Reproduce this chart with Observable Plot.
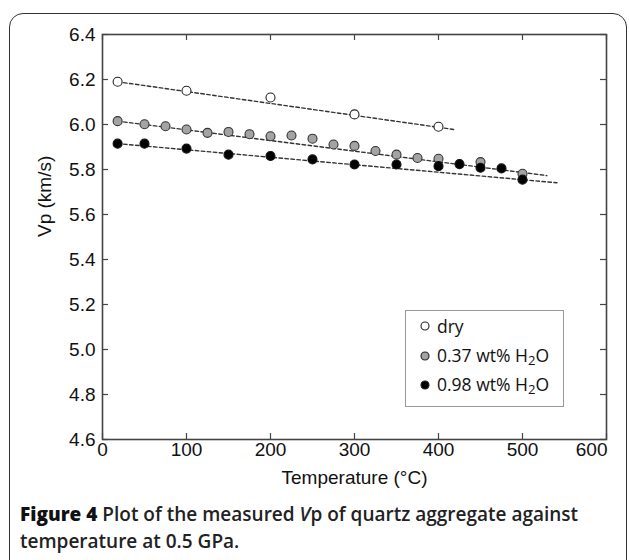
<!DOCTYPE html>
<html>
<head>
<meta charset="utf-8">
<script src="https://cdn.jsdelivr.net/npm/d3@7"></script>
<script src="https://cdn.jsdelivr.net/npm/@observablehq/plot@0.6"></script>
<style>
  html, body { margin: 0; padding: 0; background: #fff; width: 629px; height: 560px; overflow: hidden; }
  #outer { position: absolute; left: 9px; top: 13px; width: 618px; height: 600px; border: 1.5px solid #333; border-radius: 14px; box-sizing: border-box; }
  #chart { position: absolute; left: 0; top: 0; }
  #legend { position: absolute; left: 405px; top: 310px; width: 159px; height: 97px; border: 1px solid #999; background: #fff; box-sizing: border-box; font-family: "Open Sans", sans-serif; font-size: 17.5px; color: #111; }
  .row { position: absolute; left: 0; height: 22px; display: flex; align-items: center; }
  .row svg { margin-left: 14px; margin-right: 7px; }
  #caption { position: absolute; left: 20px; top: 501px; font-family: "Open Sans", sans-serif; font-size: 19px; line-height: 27px; font-weight: 600; color: #222; white-space: nowrap; }
  #caption b { font-weight: 800; color: #111; }
</style>
</head>
<body>
<div id="outer"></div>
<div id="chart"></div>
<div id="legend"></div>
<div id="caption"><b>Figure 4</b> Plot of the measured <i>V</i>p of quartz aggregate against<br>temperature at 0.5 GPa.</div>
<script>
// ---- data ----
const dryT = [18, 100, 200, 300, 400];
const dryV = [6.19, 6.15, 6.12, 6.045, 5.99];

const grayT = [18, 50, 75, 100, 125, 150, 175, 200, 225, 250, 275, 300, 325, 350, 375, 400, 450, 500];
const grayV = [6.015, 6.001, 5.992, 5.978, 5.963, 5.967, 5.957, 5.948, 5.951, 5.937, 5.911, 5.905, 5.882, 5.866, 5.851, 5.848, 5.833, 5.781];

const blackT = [18, 50, 100, 150, 200, 250, 300, 350, 400, 425, 450, 475, 500];
const blackV = [5.915, 5.915, 5.893, 5.866, 5.86, 5.845, 5.822, 5.822, 5.815, 5.824, 5.808, 5.805, 5.755];

// fitted trend lines (start / end)
const dryFitT = [18, 418];   const dryFitV = [6.19, 5.978];
const grayFitT = [18, 529];  const grayFitV = [6.015, 5.773];
const blackFitT = [18, 541]; const blackFitV = [5.915, 5.741];

const seriesNames = ["dry", "0.37 wt% H2O", "0.98 wt% H2O"];
const seriesFill = ["#ffffff", "#a3a3a3", "#000000"];

const xTicks = [0, 100, 200, 300, 400, 500, 600];
const yTicks = [4.6, 4.8, 5.0, 5.2, 5.4, 5.6, 5.8, 6.0, 6.2, 6.4];
const xLabel = "Temperature (°C)";
const yLabel = "Vp (km/s)";

// ---- build tables ----
const zip = (T, V, s) => T.map((t, i) => ({t, v: V[i], s}));
const dry = zip(dryT, dryV, 0);
const gray = zip(grayT, grayV, 1);
const black = zip(blackT, blackV, 2);
const fits = [zip(dryFitT, dryFitV, 0), zip(grayFitT, grayFitV, 1), zip(blackFitT, blackFitV, 2)].flat();

const tickFont = "'Liberation Sans', Arial, sans-serif";
const ink = "#444";

const plot = Plot.plot({
  width: 629,
  height: 500,
  marginLeft: 102,
  marginRight: 23,
  marginTop: 34,
  marginBottom: 61,
  style: {background: "transparent", fontFamily: tickFont, color: "#111", overflow: "visible"},
  x: {domain: [0, 600], axis: null},
  y: {domain: [4.6, 6.4], axis: null},
  marks: [
    Plot.line(fits, {x: "t", y: "v", z: "s", stroke: "#333", strokeWidth: 1.4, strokeDasharray: "3.5,2.5"}),
    Plot.dot(gray, {x: "t", y: "v", r: 4.5, fill: seriesFill[1], stroke: "#333", strokeWidth: 1.1}),
    Plot.dot(black, {x: "t", y: "v", r: 4.5, fill: seriesFill[2], stroke: "#111", strokeWidth: 1.1}),
    Plot.dot(dry, {x: "t", y: "v", r: 4.5, fill: seriesFill[0], stroke: "#222", strokeWidth: 1.1}),
    // inward ticks on all four sides
    Plot.tickX(xTicks, {x: d => d, insetTop: 399, stroke: ink, strokeWidth: 1.2}),
    Plot.tickX(xTicks, {x: d => d, insetBottom: 399, stroke: ink, strokeWidth: 1.2}),
    Plot.tickY(yTicks, {y: d => d, insetRight: 498, stroke: ink, strokeWidth: 1.2}),
    Plot.tickY(yTicks, {y: d => d, insetLeft: 498, stroke: ink, strokeWidth: 1.2}),
    Plot.frame({stroke: ink, strokeWidth: 1.6}),
    // tick labels
    Plot.text(xTicks, {filter: d => d < 600, x: d => d, frameAnchor: "bottom", dy: 16, text: d => String(d), fontSize: 19, fill: "#111"}),
    Plot.text(xTicks, {filter: d => d === 600, x: d => d, frameAnchor: "bottom", dy: 16, text: d => String(d), textAnchor: "end", dx: 1, fontSize: 19, fill: "#111"}),
    Plot.text(yTicks, {y: d => d, frameAnchor: "left", dx: -7, textAnchor: "end", text: d => d.toFixed(1), fontSize: 19, fill: "#111"}),
    // axis titles
    Plot.text([xLabel], {frameAnchor: "bottom", dy: 44, text: d => d, fontSize: 19, fill: "#111"}),
    Plot.text([yLabel], {frameAnchor: "left", dx: -58, rotate: -90, text: d => d, fontSize: 19, fill: "#111"})
  ]
});
document.getElementById("chart").appendChild(plot);

// ---- legend (inside the plot frame, as in the reference) ----
const legend = document.getElementById("legend");
const rowCenters = [15, 45, 74];
seriesNames.forEach((name, i) => {
  const row = document.createElement("div");
  row.className = "row";
  row.style.top = (rowCenters[i] - 11) + "px";
  const label = name.replace("H2O", "H<sub style='font-size:0.75em;vertical-align:-0.25em'>2</sub>O");
  row.innerHTML = `<svg width="10" height="10" viewBox="-5 -5 10 10"><circle r="4" fill="${seriesFill[i]}" stroke="#222" stroke-width="1.1"></circle></svg><span>${label}</span>`;
  legend.appendChild(row);
});
</script>
</body>
</html>
